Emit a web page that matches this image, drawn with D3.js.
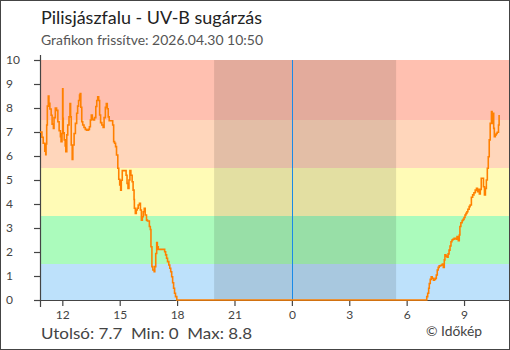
<!DOCTYPE html>
<html><head><meta charset="utf-8">
<script src="https://cdn.jsdelivr.net/npm/d3@7"></script>
<style>html,body{margin:0;padding:0;background:#fff} svg{display:block} text{font-family:Lato,"Open Sans",sans-serif}</style>
</head><body><svg id="c" width="510" height="350"></svg>
<script>
// ---- data ----
const stationName = "Pilisjászfalu - UV-B sugárzás";
const updatedText = "Grafikon frissítve: 2026.04.30 10:50";
const startTime = new Date(2026, 3, 29, 10, 50);
const endTime = new Date(2026, 3, 30, 11, 21);
const nightStart = new Date(2026, 3, 29, 19, 56);
const nightEnd = new Date(2026, 3, 30, 5, 27);
const midnight = new Date(2026, 3, 30, 0, 0);
const yTicks = [0,1,2,3,4,5,6,7,8,9,10];
const bandLimits = [0, 1.5, 3.5, 5.5, 7.5, 10];
const bandColors = ["#bde1fb", "#abfbbc", "#fffbb6", "#ffd6bb", "#ffc0b0"];
// [minutes after 10:50, UV-B]
const uvbReadings = [[0,7.0],[6,6.78],[10,6.53],[15,6.2],[18,6.05],[19,6.5],[21,7.29],[23,8.08],[26,8.5],[28,8.2],[31,7.96],[35,7.7],[38,7.33],[42,7.15],[44,7.6],[48,8.0],[52,7.9],[56,7.43],[60,7.05],[64,6.8],[66,6.6],[69,6.94],[71,8.8],[72,7.57],[73,6.97],[76,6.67],[79,6.42],[81,6.18],[84,6.88],[87,7.29],[91,7.63],[94,8.19],[96,7.63],[98,6.46],[101,5.86],[103,6.46],[107,6.94],[111,7.36],[115,7.78],[118,8.08],[121,8.31],[124,8.54],[126,8.6],[128,8.03],[131,7.43],[134,7.29],[138,7.19],[142,7.11],[146,7.08],[152,7.11],[155,7.22],[158,7.5],[161,7.71],[164,7.53],[167,7.5],[171,7.6],[175,8.06],[178,8.31],[181,8.47],[184,8.31],[187,7.71],[190,7.39],[194,7.29],[198,7.19],[201,7.6],[205,8.03],[208,8.19],[211,7.97],[214,7.63],[217,7.47],[228,7.29],[231,6.6],[234,6.53],[237,6.39],[240,6.04],[244,5.49],[247,5.03],[250,4.79],[253,4.58],[255,4.99],[258,5.39],[267,5.39],[270,5.2],[273,4.86],[276,4.65],[279,5.0],[282,5.39],[285,5.2],[289,4.93],[292,4.58],[295,4.19],[296,3.82],[299,3.61],[302,3.75],[305,3.82],[308,3.96],[312,4.03],[315,3.75],[318,3.33],[321,3.47],[324,3.68],[327,3.82],[330,3.54],[334,3.33],[337,3.29],[343,3.06],[346,2.94],[348,2.22],[351,1.39],[354,1.25],[358,1.18],[360,1.39],[363,1.94],[366,2.39],[368,2.22],[371,2.11],[391,2.01],[394,1.88],[397,1.74],[400,1.6],[404,1.46],[407,1.32],[410,1.18],[413,0.97],[416,0.72],[419,0.49],[422,0.28],[425,0.14],[429,0],
[1213,0.14],[1216,0.28],[1219,0.49],[1221,0.69],[1224,0.86],[1227,0.97],[1230,0.9],[1234,0.83],[1237,0.86],[1240,0.9],[1243,1.04],[1246,1.25],[1249,1.36],[1252,1.42],[1256,1.44],[1259,1.46],[1262,1.5],[1265,1.36],[1268,1.67],[1270,1.88],[1273,1.83],[1277,1.78],[1280,1.92],[1283,2.08],[1286,2.25],[1289,2.43],[1292,2.5],[1295,2.53],[1299,2.57],[1305,2.53],[1308,2.64],[1312,2.47],[1315,2.71],[1317,3.06],[1320,3.22],[1324,3.31],[1327,3.36],[1330,3.44],[1333,3.54],[1336,3.61],[1339,3.68],[1342,3.78],[1346,3.89],[1349,3.96],[1353,4.28],[1357,4.38],[1361,4.47],[1365,4.58],[1369,4.65],[1372,4.51],[1375,4.61],[1378,4.42],[1381,4.61],[1384,5.07],[1387,5.07],[1391,4.72],[1394,4.38],[1397,4.65],[1400,5.0],[1403,5.49],[1406,5.97],[1409,6.67],[1412,7.36],[1416,7.85],[1418,7.36],[1420,7.78],[1423,7.15],[1425,6.8],[1428,6.88],[1431,6.94],[1434,6.99],[1438,7.29],[1440,7.71]];

// ---- chart ----
const svg = d3.select("#c");
const L = 40, R = 509, T = 60, B = 300;
const x = d3.scaleTime().domain([startTime, endTime]).range([L, R]);
const y = d3.scaleLinear().domain([0, 10]).range([B, T]);
const data = uvbReadings.map(d => ({t: new Date(+startTime + d[0]*60000), v: d[1]}));

svg.append("rect").attr("x",0.5).attr("y",0.5).attr("width",509).attr("height",349)
  .attr("fill","#fff").attr("stroke","#444");

// bands
svg.append("g").selectAll("rect").data(bandColors).join("rect")
  .attr("x", L).attr("width", R - L)
  .attr("y", (c,i) => y(bandLimits[i+1]))
  .attr("height", (c,i) => y(bandLimits[i]) - y(bandLimits[i+1]))
  .attr("fill", c => c);

// night
svg.append("rect").attr("x", x(nightStart)).attr("width", x(nightEnd) - x(nightStart))
  .attr("y", T).attr("height", B - T).attr("fill", "#000").attr("opacity", 0.11);

// midnight line
svg.append("line").attr("x1", Math.round(x(midnight))+0.5).attr("x2", Math.round(x(midnight))+0.5)
  .attr("y1", T).attr("y2", B).attr("stroke", "#1a8ae8").attr("stroke-width", 1);

// axes
const xAxis = svg.append("g").attr("transform", `translate(0,${B})`)
  .call(d3.axisBottom(x).ticks(d3.timeHour.every(3)).tickFormat(d3.timeFormat("%-H")).tickSize(6).tickSizeOuter(6));
xAxis.selectAll("path,line").attr("stroke", "#444").attr("stroke-width", 1.2);
xAxis.selectAll("text").attr("fill", "#444").attr("font-size", 12).attr("y", 10);
xAxis.select(".domain").remove();
svg.append("line").attr("x1", 34).attr("x2", R).attr("y1", B+0.5).attr("y2", B+0.5).attr("stroke","#444").attr("stroke-width",1.2);

const yAxis = svg.append("g").attr("transform", `translate(${L},0)`)
  .call(d3.axisLeft(y).tickValues(yTicks).tickFormat(d3.format("d")).tickSize(6).tickSizeOuter(0));
yAxis.select(".domain").remove();
yAxis.selectAll("line").attr("stroke", "#444").attr("stroke-width", 1.2);
yAxis.selectAll("text").attr("fill", "#444").attr("font-size", 12).attr("text-anchor", "start").attr("x", -34);
svg.append("line").attr("x1", L+0.5).attr("x2", L+0.5).attr("y1", 55).attr("y2", 307).attr("stroke","#444").attr("stroke-width",1.2);

// data line
svg.append("path").datum(data)
  .attr("d", d3.line().x(d => x(d.t)).y(d => y(d.v)).curve(d3.curveStepAfter))
  .attr("fill", "none").attr("stroke", "#ff8000").attr("stroke-width", 1.6);

// texts
svg.append("text").attr("x", 41).attr("y", 24).attr("font-size", 17).attr("fill", "#222")
  .attr("textLength", 221).attr("lengthAdjust", "spacingAndGlyphs").text(stationName);
svg.append("text").attr("x", 41).attr("y", 45).attr("font-size", 13).attr("fill", "#555")
  .attr("textLength", 222).attr("lengthAdjust", "spacingAndGlyphs").text(updatedText);
const last = data[data.length-1].v, mn = d3.min(data, d => d.v), mx = d3.max(data, d => d.v);
const f = d3.format(".1~f");
svg.append("text").attr("x", 41).attr("y", 339).attr("font-size", 16).attr("fill", "#444")
  .attr("textLength", 211).attr("lengthAdjust", "spacingAndGlyphs").attr("xml:space","preserve")
  .style("white-space","pre")
  .text(`Utolsó: ${f(last)}  Min: ${f(mn)}  Max: ${f(mx)}`);
svg.append("text").attr("x", 426).attr("y", 336).attr("font-size", 13).attr("fill", "#444")
  .attr("textLength", 56).attr("lengthAdjust", "spacingAndGlyphs").text("© Időkép");
</script></body></html>
